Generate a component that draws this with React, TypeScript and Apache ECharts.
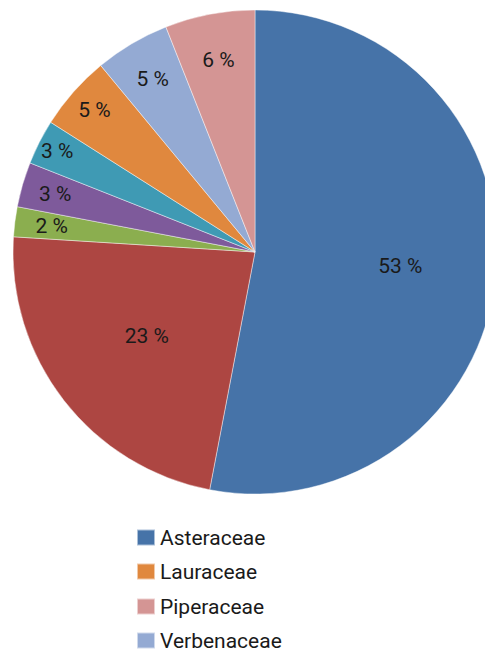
import React, { useEffect, useRef } from "react";
import * as echarts from "echarts";

const families = [
  "Asteraceae",
  "Solanaceae",
  "Fabaceae",
  "Lamiaceae",
  "Myrtaceae",
  "Lauraceae",
  "Verbenaceae",
  "Piperaceae",
];
const percents = [53, 23, 2, 3, 3, 5, 5, 6];
const colors = [
  "#4673A8",
  "#AD4642",
  "#8BAE4F",
  "#7E5A9B",
  "#3F9AB4",
  "#E0883E",
  "#94AAD3",
  "#D49594",
];
const legendNames = ["Asteraceae", "Lauraceae", "Piperaceae", "Verbenaceae"];

// distance of each slice's value label from the pie centre (layout)
const labelRadius = [143, 134, 202, 205, 219, 211, 198, 192];

const FONT = "Roboto, sans-serif";
const R = 242;
const CENTER = [255, 252];

export default function App() {
  const ref = useRef<HTMLDivElement>(null);
  useEffect(() => {
    if (!ref.current) return;
    const chart = echarts.init(ref.current, undefined, { renderer: "svg" });
    const baseData = families.map((n, i) => ({
      name: n,
      value: percents[i],
      itemStyle: { color: colors[i] },
    }));
    const labelStyle = {
      show: true,
      position: "inside" as const,
      formatter: "{c} %",
      color: "#1a1a1a",
      fontSize: 21,
      fontFamily: FONT,
    };
    const overlays = families.map((name, k) => ({
      type: "pie" as const,
      center: CENTER,
      radius: [2 * labelRadius[k] - R, R],
      silent: true,
      startAngle: 90,
      clockwise: true,
      avoidLabelOverlap: false,
      labelLine: { show: false },
      itemStyle: { color: "rgba(0,0,0,0)", borderWidth: 0 },
      data: families.map((n, i) => ({
        name: n,
        value: percents[i],
        itemStyle: { color: "rgba(0,0,0,0)" },
        label: { ...labelStyle, show: i === k },
      })),
    }));
    const legendTops = [527, 561, 596, 630];
    chart.setOption({
      animation: false,
      legend: legendNames.map((n, i) => ({
        data: [n],
        orient: "vertical",
        left: 136,
        top: legendTops[i],
        padding: 0,
        itemWidth: 18,
        itemHeight: 16,
        icon: "rect",
        textStyle: {
          fontSize: 21,
          lineHeight: 18,
          color: "#1a1a1a",
          fontFamily: FONT,
        },
        selectedMode: false,
      })),
      series: [
        {
          type: "pie",
          center: CENTER,
          radius: [0, R],
          startAngle: 90,
          clockwise: true,
          label: { show: false },
          labelLine: { show: false },
          itemStyle: { borderColor: "rgba(255,255,255,0.55)", borderWidth: 0.8 },
          data: baseData,
        },
        ...overlays,
      ],
    });
    return () => chart.dispose();
  }, []);
  return (
    <div
      ref={ref}
      style={{ position: "fixed", left: 0, top: 0, width: 485, height: 653, background: "#fff" }}
    />
  );
}
